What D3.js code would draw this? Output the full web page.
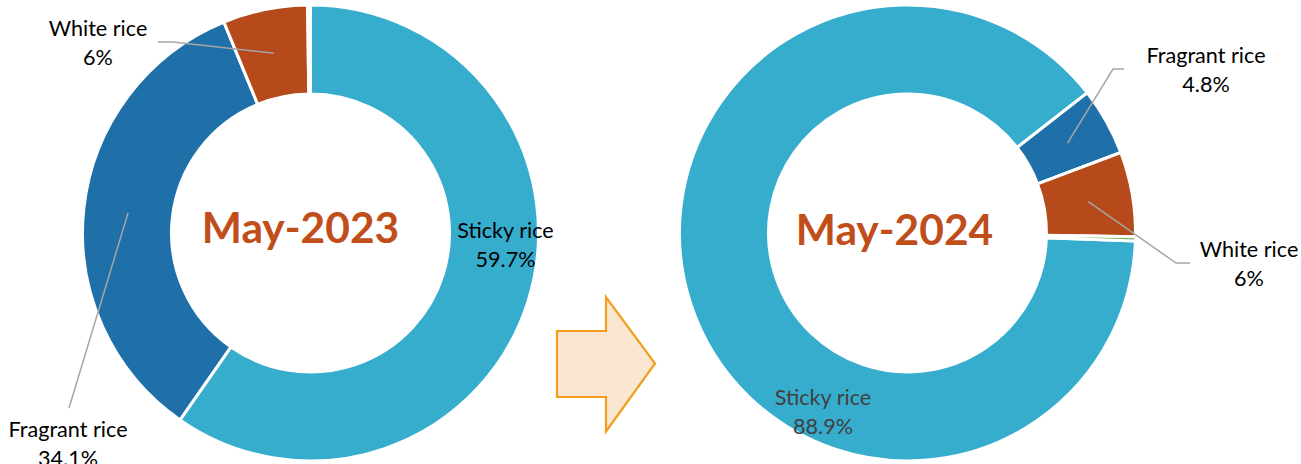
<!DOCTYPE html>
<html>
<head>
<meta charset="utf-8">
<script src="https://cdn.jsdelivr.net/npm/d3@7"></script>
<style>
  body { margin: 0; background: #fff; }
  svg { display: block; }
  text { font-family: Lato, "Open Sans", sans-serif; }
</style>
</head>
<body>
<svg id="chart" width="1301" height="464"></svg>
<script>
// Rice export structure by type, shares in percent
const categories = ["Sticky rice", "Fragrant rice", "White rice", "Other"];
const periods = ["May-2023", "May-2024"];
const shares2023 = [59.7, 34.1, 6.0, 0.2];
const shares2024 = [88.9, 4.8, 6.0, 0.3];

const colors = ["#37ADCE", "#1F6FA9", "#B64A1B", "#70AD47"];
const pct = v => d3.format(".1~f")(v) + "%";
const deg = a => a * Math.PI / 180;

const svg = d3.select("#chart");
const outerR = 228, innerR = 139;

const arc = d3.arc().innerRadius(innerR).outerRadius(outerR);
const mid = d3.arc().innerRadius((innerR + outerR) / 2).outerRadius((innerR + outerR) / 2);

// label placement per slice: text anchor point, optional leader elbow points
const donuts = [
  {
    cx: 310.5, cy: 233, start: 0, values: shares2023, title: periods[0], titleX: 300.5, titleY: 243,
    labels: [
      { x: 505.5, y: 238, fill: "#000" },
      { x: 68, y: 437, fill: "#000", leader: [[69, 408]] },
      { x: 98, y: 36, fill: "#000", leader: [[173, 42], [158, 42]] },
      null
    ]
  },
  {
    cx: 907.5, cy: 233, start: 92, values: shares2024, title: periods[1], titleX: 894.5, titleY: 245,
    labels: [
      { x: 823, y: 405, fill: "#404040" },
      { x: 1206, y: 63, fill: "#000", leader: [[1113, 69], [1124, 69]] },
      { x: 1249, y: 257, fill: "#000", leader: [[1176, 263], [1190, 263]] },
      null
    ]
  }
];

donuts.forEach(dn => {
  const pie = d3.pie().sort(null).value(d => d)
    .startAngle(deg(dn.start)).endAngle(deg(dn.start) + 2 * Math.PI);
  const arcs = pie(dn.values);
  const g = svg.append("g").attr("transform", `translate(${dn.cx},${dn.cy})`);

  g.selectAll("path.slice").data(arcs).join("path")
    .attr("class", "slice")
    .attr("d", arc)
    .attr("fill", (d, i) => colors[i])
    .attr("stroke", "#fff")
    .attr("stroke-width", 3)
    .attr("stroke-linejoin", "miter");

  // leader lines
  arcs.forEach((a, i) => {
    const lb = dn.labels[i];
    if (!lb || !lb.leader) return;
    const c = mid.centroid(a);
    const pts = [[dn.cx + c[0], dn.cy + c[1]], ...lb.leader];
    svg.append("path")
      .attr("d", d3.line()(pts))
      .attr("fill", "none")
      .attr("stroke", "#A6A6A6")
      .attr("stroke-width", 1.5);
  });

  // category and value labels
  arcs.forEach((a, i) => {
    const lb = dn.labels[i];
    if (!lb) return;
    const t = svg.append("text")
      .attr("text-anchor", "middle")
      .attr("font-size", 21.6)
      .attr("fill", lb.fill);
    t.append("tspan").attr("x", lb.x).attr("y", lb.y).text(categories[i]);
    t.append("tspan").attr("x", lb.x).attr("y", lb.y + 29).text(pct(dn.values[i]));
  });

  // period title in the hole
  svg.append("text")
    .attr("x", dn.titleX).attr("y", dn.titleY)
    .attr("text-anchor", "middle")
    .attr("font-size", 42.5)
    .attr("font-weight", "bold")
    .attr("fill", "#BF4E1B")
    .text(dn.title);
});

// block arrow between the two periods
const arrow = [[557, 331], [606, 331], [606, 297], [655, 363.5], [606, 431.5], [606, 397], [557, 397]];
svg.append("path")
  .attr("d", d3.line()(arrow) + "Z")
  .attr("fill", "#FBE7D1")
  .attr("stroke", "#F29E1E")
  .attr("stroke-width", 2.2)
  .attr("stroke-linejoin", "miter");
</script>
</body>
</html>
